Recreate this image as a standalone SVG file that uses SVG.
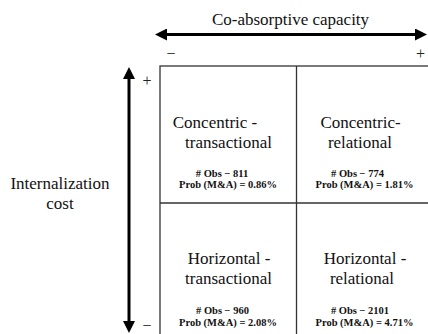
<svg xmlns="http://www.w3.org/2000/svg" width="428" height="334" viewBox="0 0 428 334" font-family="'Liberation Serif', 'DejaVu Serif', serif">
<style>
text { font-family: 'Liberation Serif', 'Tinos', 'Times New Roman', 'DejaVu Serif', serif; fill: #111; }
.lbl { font-size: 17px; text-anchor: middle; }
.big { font-size: 17px; text-anchor: middle; }
.sm { font-size: 10.5px; font-weight: bold; text-anchor: middle; }
.pm { font-size: 16px; text-anchor: middle; fill: #222; }
.grid { fill: none; stroke: #333; stroke-width: 1.3; }
.axis { stroke: #000; stroke-width: 3; fill: none; marker-start: url(#ah); marker-end: url(#ah); }
</style>
<defs>
<marker id="ah" viewBox="0 0 12 12" refX="1" refY="6" markerWidth="12" markerHeight="12" markerUnits="userSpaceOnUse" orient="auto-start-reverse">
<path d="M0,0 L12,6 L0,12 z" fill="#000"/>
</marker>
</defs>
<rect width="428" height="334" fill="#fff"/>

<g id="grid">
<rect class="grid" x="160" y="66" width="273" height="274"/>
<line class="grid" x1="296.5" y1="66" x2="296.5" y2="340"/>
<line class="grid" x1="160" y1="203" x2="433" y2="203"/>
</g>

<g id="connectors">
<line class="axis" x1="166" y1="34.5" x2="416" y2="34.5"/>
<line class="axis" x1="129" y1="78" x2="129" y2="322"/>
</g>

<g id="x-axis-label">
<text class="lbl" x="290.5" y="25">Co-absorptive capacity</text>
<text class="pm" x="171" y="59">−</text>
<text class="pm" x="420.5" y="59">+</text>
</g>

<g id="y-axis-label">
<text class="lbl" x="60" y="188.5">Internalization</text>
<text class="lbl" x="60" y="208.5">cost</text>
<text class="pm" x="147" y="86">+</text>
<text class="pm" x="147" y="331">−</text>
</g>

<g id="concentric-transactional">
<text class="big" x="215" y="128">Concentric -</text>
<text class="big" x="228.5" y="147.5">transactional</text>
<text class="sm" x="222" y="176.5"># Obs − 811</text>
<text class="sm" x="228" y="187.5">Prob (M&amp;A) = 0.86%</text>
</g>

<g id="concentric-relational">
<text class="big" x="360.5" y="128">Concentric-</text>
<text class="big" x="360" y="147.5">relational</text>
<text class="sm" x="357.5" y="176.5"># Obs − 774</text>
<text class="sm" x="364.5" y="187.5">Prob (M&amp;A) = 1.81%</text>
</g>

<g id="horizontal-transactional">
<text class="big" x="229" y="264">Horizontal -</text>
<text class="big" x="228.5" y="283.5">transactional</text>
<text class="sm" x="222.5" y="313.5"># Obs − 960</text>
<text class="sm" x="228" y="326">Prob (M&amp;A) = 2.08%</text>
</g>

<g id="horizontal-relational">
<text class="big" x="365" y="264">Horizontal -</text>
<text class="big" x="362" y="283.5">relational</text>
<text class="sm" x="360" y="313.5"># Obs − 2101</text>
<text class="sm" x="364.5" y="326">Prob (M&amp;A) = 4.71%</text>
</g>
</svg>
